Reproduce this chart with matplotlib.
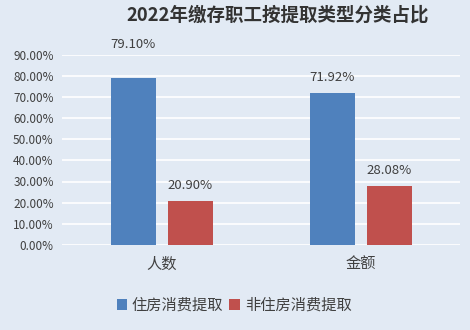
import matplotlib.pyplot as plt
import numpy as np

plt.rcParams['font.family'] = ['Noto Sans CJK SC', 'DejaVu Sans']

categories = ["人数", "金额"]
series_names = ["住房消费提取", "非住房消费提取"]
housing = [79.10, 71.92]
non_housing = [20.90, 28.08]
yticks = [0, 10, 20, 30, 40, 50, 60, 70, 80, 90]

BG = "#e2eaf4"
COLORS = ["#4f81bd", "#c0504d"]
TEXT = "#404040"

fig = plt.figure(figsize=(4.7, 3.3), dpi=100, facecolor=BG)
ax = fig.add_axes([0.132, 0.258, 0.847, 0.576], facecolor=BG)

x = np.arange(len(categories))
w = 0.226
gap = 0.06
b1 = ax.bar(x - (w + gap) / 2, housing, w, color=COLORS[0], label=series_names[0], zorder=3)
b2 = ax.bar(x + (w + gap) / 2, non_housing, w, color=COLORS[1], label=series_names[1], zorder=3)

# value labels above bars; the tallest one is pushed up past the top gridline
for bars in (b1, b2):
    for b in bars:
        h = b.get_height()
        off = 24 if h > 75 else 11
        ax.annotate(f"{h:.2f}%", (b.get_x() + b.get_width() / 2, h),
                    xytext=(0, off), textcoords="offset points",
                    ha="center", va="center", fontsize=9.5, color=TEXT,
                    annotation_clip=False)

ax.set_xlim(-0.5, 1.5)
ax.set_ylim(0, 90)
ax.set_yticks(yticks)
ax.set_yticklabels([f"{v:.2f}%" for v in yticks], fontsize=8.5, color=TEXT)
ax.set_xticks(x)
ax.set_xticklabels(categories, fontsize=11, color=TEXT)
ax.tick_params(axis="both", length=0)
ax.tick_params(axis="x", pad=8)
ax.tick_params(axis="y", pad=6)
ax.grid(axis="y", color="white", linewidth=1.2, zorder=0)
for s in ax.spines.values():
    s.set_visible(False)

fig.text(0.59, 0.953, "2022年缴存职工按提取类型分类占比", ha="center", va="center",
         fontsize=13.3, fontweight="bold", color="#333333")

fig.legend(loc="center", bbox_to_anchor=(0.498, 0.075), ncol=2, frameon=False,
           fontsize=11, handlelength=0.7, handleheight=0.7, handletextpad=0.3,
           columnspacing=0.4, labelcolor=TEXT)

fig.savefig("out.png", dpi=100, facecolor=BG)
